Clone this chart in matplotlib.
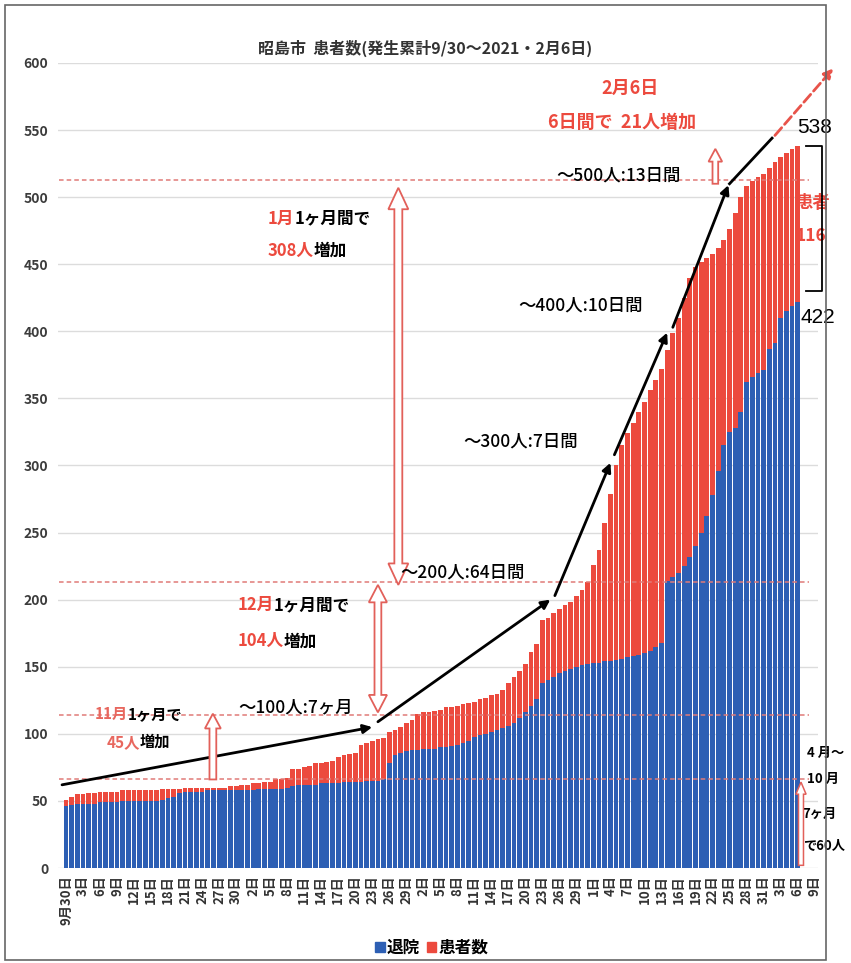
import numpy as np
import pandas as pd
import matplotlib
matplotlib.use('Agg')
import matplotlib.pyplot as plt
from matplotlib.patches import Polygon, Patch, Rectangle

plt.rcParams['font.family'] = ['Noto Sans CJK JP', 'DejaVu Sans']

# 2020/9/30 ～ 2021/2/6 の日別累計
start_day = '2020-09-30'
last_day = '2021-02-06'
axis_end = '2021-02-09'

# 発生累計(退院+患者数)
total = [51, 53, 55, 55, 56, 56, 57, 57, 57, 57,
         58, 58, 58, 58, 58, 58, 58, 59, 59, 59,
         59, 60, 60, 60, 60, 60, 60, 60, 60, 61,
         61, 62, 62, 63, 63, 64, 64, 66, 66, 67,
         74, 74, 75, 76, 78, 78, 79, 80, 83, 84,
         85, 86, 92, 93, 95, 96, 97, 101, 103, 105,
         108, 110, 115, 116, 116, 117, 118, 120, 120, 121,
         122, 123, 124, 126, 127, 129, 130, 133, 138, 142,
         147, 152, 161, 167, 185, 186, 190, 193, 196, 198,
         203, 207, 213, 226, 237, 257, 279, 300, 315, 324,
         332, 340, 347, 356, 364, 372, 386, 399, 410, 425,
         440, 448, 452, 455, 458, 462, 468, 476, 488, 500,
         508, 512, 515, 517, 522, 526, 530, 533, 536, 538]

# 退院
taiin = [46, 47, 48, 48, 48, 48, 49, 49, 49, 49,
         50, 50, 50, 50, 50, 50, 50, 51, 52, 53,
         56, 57, 57, 57, 57, 58, 58, 58, 58, 58,
         58, 58, 58, 58, 59, 59, 59, 59, 59, 60,
         61, 62, 62, 62, 62, 63, 63, 63, 63, 64,
         64, 64, 64, 65, 65, 65, 66, 78, 84, 86,
         87, 88, 88, 89, 89, 89, 90, 90, 91, 92,
         93, 95, 98, 99, 100, 101, 103, 104, 106, 108,
         112, 116, 121, 126, 138, 140, 142, 145, 147, 148,
         150, 151, 152, 153, 153, 154, 154, 155, 156, 157,
         158, 159, 160, 162, 165, 168, 214, 217, 220, 225,
         232, 240, 250, 262, 278, 296, 315, 325, 328, 340,
         362, 366, 369, 371, 387, 391, 410, 415, 419, 422]

# 増加の目安線(月末の累計)
month_levels = [66, 114, 213, 513]

# 増加傾向の矢印 (日の位置, 累計)
trend = [((-0.7, 62), (54, 105)),
         ((55, 109), (85.4, 200)),
         ((86.2, 203), (96, 302)),
         ((96.7, 308), (106, 399)),
         ((107, 403), (116.8, 509))]

BLUE = '#2d5fb4'
RED = '#ec4a3e'
PINK = '#e2605a'

days = pd.date_range(start_day, last_day)
x = np.arange(len(days))
kanja = np.array(total) - np.array(taiin)

tick_days = pd.date_range(start_day, axis_end, freq='3D')
tick_pos = [(d - days[0]).days for d in tick_days]
tick_labels = ['9月30日' if i == 0 else f'{d.day}日' for i, d in enumerate(tick_days)]

fig = plt.figure(figsize=(8.51, 9.63), dpi=100)
ax = fig.add_axes([58 / 851, 95 / 963, 760 / 851, 805 / 963])

ax.bar(x, taiin, width=0.84, color=BLUE, zorder=2)
ax.bar(x, kanja, bottom=taiin, width=0.84, color=RED, zorder=2)

ax.set_xlim(-1.41, 132.6)
ax.set_ylim(0, 600)
ax.set_yticks(range(0, 601, 50))
ax.yaxis.grid(True, color='#dcdcdc', lw=1)
ax.set_axisbelow(True)
for s in ax.spines.values():
    s.set_visible(False)
ax.tick_params(length=0)
ax.tick_params(axis='y', pad=7, labelsize=10, labelcolor='#3c3c3c')
for lb in ax.get_yticklabels():
    lb.set_fontweight('bold')
ax.set_xticks(tick_pos)
ax.set_xticklabels(tick_labels, rotation=90, fontsize=9.5, fontweight='bold', color='#333333')
ax.tick_params(axis='x', pad=5)

# 目安の点線
for v in month_levels:
    ax.plot([-1.2, 131], [v, v], ls=(0, (3, 2)), color='#e07b78', lw=1.1, zorder=4)

# 増加傾向の矢印
for a, b in trend:
    ax.annotate('', xy=b, xytext=a, annotation_clip=False,
                arrowprops=dict(arrowstyle='-|>', color='black', lw=2,
                                mutation_scale=13, shrinkA=0, shrinkB=0), zorder=5)
ax.plot([117, 124.5], [510, 544], color='black', lw=2, zorder=5)
ax.annotate('', xy=(135.3, 596), xytext=(125, 546), annotation_clip=False,
            arrowprops=dict(arrowstyle='-|>', color='#e8534a', lw=2, linestyle='--',
                            mutation_scale=14, shrinkA=0, shrinkB=0), zorder=5)


def hollow_arrow(x0, y0, y1, hw, sw, hl, both=False, lw=1.3):
    if both:
        v = [(x0 - sw, y0 + hl), (x0 - hw, y0 + hl), (x0, y0), (x0 + hw, y0 + hl),
             (x0 + sw, y0 + hl), (x0 + sw, y1 - hl), (x0 + hw, y1 - hl), (x0, y1),
             (x0 - hw, y1 - hl), (x0 - sw, y1 - hl)]
    else:
        v = [(x0 - sw, y0), (x0 + sw, y0), (x0 + sw, y1 - hl), (x0 + hw, y1 - hl),
             (x0, y1), (x0 - hw, y1 - hl), (x0 - sw, y1 - hl)]
    ax.add_patch(Polygon(v, closed=True, fc='white', ec=PINK, lw=lw, zorder=6, clip_on=False))


hollow_arrow(58.6, 211, 507, 1.76, 0.7, 16, both=True)
hollow_arrow(55.0, 116, 211, 1.6, 0.6, 13, both=True)
hollow_arrow(25.9, 66, 115, 1.4, 0.6, 11)
hollow_arrow(114.5, 510, 536, 1.2, 0.5, 9.5)
hollow_arrow(129.6, 2, 64, 0.9, 0.44, 9, lw=1.1)


def multi_text(x0, y0, parts, size=12):
    t = ax.text(x0, y0, parts[0][0], color=parts[0][1], ha='left', va='center',
                fontsize=size, fontweight='bold', zorder=7)
    for s, c in parts[1:]:
        t = ax.annotate(s, xy=(1, 0.5), xycoords=t, color=c, ha='left', va='center',
                        fontsize=size, fontweight='bold', zorder=7)


multi_text(35.6, 484, [('1月', RED), ('1ヶ月間で', 'black')])
multi_text(35.6, 460, [('308人', RED), ('増加', 'black')])
multi_text(30.3, 196, [('12月', RED), ('1ヶ月間で', 'black')])
multi_text(30.3, 169, [('104人', RED), ('増加', 'black')])
multi_text(5.1, 115, [('11月', '#e8675e'), ('1ヶ月で', 'black')], size=11)
multi_text(7.2, 94, [('45人', '#e8675e'), ('増加', 'black')], size=11)

for txt, xx, yy in [('～100人:7ヶ月', 30.3, 120), ('～200人:64日間', 58.9, 220),
                    ('～300人:7日間', 70, 318), ('～400人:10日間', 79.7, 419),
                    ('～500人:13日間', 86.4, 516)]:
    ax.text(xx, yy, txt, ha='left', va='center', fontsize=12.5, color='black',
            fontweight='medium', zorder=7)

ax.text(99.5, 581, '2月6日', ha='center', va='center', fontsize=13, color=RED,
        fontweight='bold', zorder=7)
ax.text(98, 556, '6日間で  21人増加', ha='center', va='center', fontsize=13, color=RED,
        fontweight='bold', zorder=7)

ax.text(63.3, 611, '昭島市  患者数(発生累計9/30～2021・2月6日)', ha='center', va='center',
        fontsize=11.5, fontweight='bold', color='#333333')

# 右側の注記
ax.plot([130.5, 133.3, 133.3, 130.5], [538, 538, 430, 430], color='black', lw=1.3,
        clip_on=False, zorder=7)
ax.text(128.9, 552, '538', ha='left', va='center', fontsize=15, family='Liberation Sans')
ax.text(129.5, 410, '422', ha='left', va='center', fontsize=15, family='Liberation Sans')
ax.text(128.6, 496, '患者', ha='left', va='center', fontsize=12.5, color=RED, fontweight='bold')
ax.text(128.6, 471, '116', ha='left', va='center', fontsize=12.5, color=RED, fontweight='bold')
for txt, xx, yy in [('4 月～', 130.7, 86), ('10 月', 130.7, 66),
                    ('7ヶ月', 129.9, 40), ('で60人', 129.9, 17)]:
    ax.text(xx, yy, txt, ha='left', va='center', fontsize=9.5, fontweight='bold')

fig.legend(handles=[Patch(color=BLUE, label='退院'), Patch(color=RED, label='患者数')],
           loc='center', bbox_to_anchor=(432 / 851, 1 - 948 / 963), ncol=2, frameon=False,
           prop={'size': 12, 'weight': 'bold'}, handlelength=0.55, handleheight=0.55,
           handletextpad=0.15, columnspacing=0.4)

fig.add_artist(Rectangle((5 / 851, 3 / 963), 821 / 851, 955 / 963, transform=fig.transFigure,
                         fill=False, ec='#666666', lw=1.2))

fig.savefig('out.png', dpi=100)
